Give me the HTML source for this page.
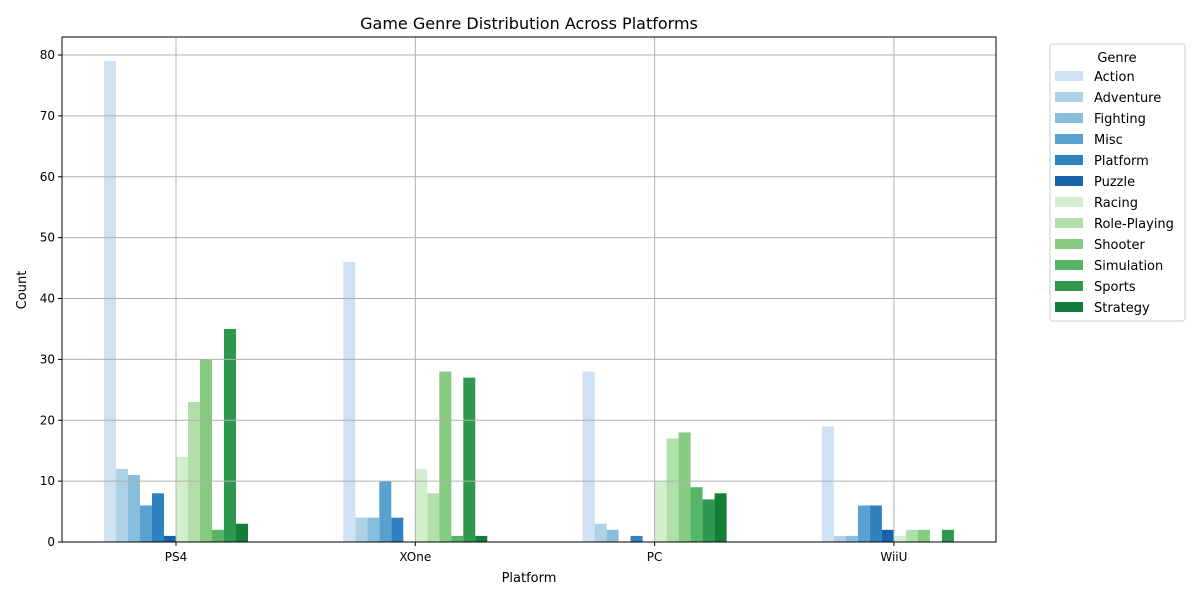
<!DOCTYPE html>
<html><head><meta charset="utf-8"><style>
body{margin:0;background:#fff;font-family:"Liberation Sans",sans-serif}
svg text{font-family:"DejaVu Sans","Liberation Sans",sans-serif}
</style></head><body>
<svg id="c" width="1200" height="600" xmlns="http://www.w3.org/2000/svg"></svg>
<script>
const platforms=["PS4","XOne","PC","WiiU"];
const genres=["Action","Adventure","Fighting","Misc","Platform","Puzzle","Racing","Role-Playing","Shooter","Simulation","Sports","Strategy"];
const ps4=[79,12,11,6,8,1,14,23,30,2,35,3];
const xone=[46,4,4,10,4,0,12,8,28,1,27,1];
const pc=[28,3,2,0,1,0,10,17,18,9,7,8];
const wiiu=[19,1,1,6,6,2,1,2,2,0,2,0];
const yTicks=[0,10,20,30,40,50,60,70,80];
const series=[ps4,xone,pc,wiiu];
const colors=["#cfe1f2","#afd1e7","#88bedc","#5aa1cf","#3082be","#1764ab","#d3eecd","#b0dfaa","#87cb80","#56b567","#2e984e","#137d39"];
const svg=document.getElementById('c');const NS="http://www.w3.org/2000/svg";
function mk(t,a,p){const e=document.createElementNS(NS,t);for(const k in a)e.setAttribute(k,a[k]);(p||svg).appendChild(e);return e;}
const L=62,R=996,T=37,B=542;
const y=v=>B-v*(487/80);
const gx=i=>176+i*239.3;
const bw=12;
// bars
series.forEach((s,i)=>{
 s.forEach((v,j)=>{
  const x=gx(i)-6*bw+j*bw;
  const r=mk('rect',{x:x,y:y(v),width:bw,height:B-y(v),fill:colors[j]});
  
  
 });
});
// grid
yTicks.forEach(t=>{
 mk('line',{x1:L,x2:R,y1:y(t),y2:y(t),stroke:'#b0b0b0','stroke-width':1});
 mk('line',{x1:L-4,x2:L,y1:y(t),y2:y(t),stroke:'#000'});
 const tx=mk('text',{x:L-7,y:y(t)+4,'text-anchor':'end','font-size':12});tx.textContent=t;
 
 
});
platforms.forEach((p,i)=>{
 mk('line',{x1:gx(i),x2:gx(i),y1:T,y2:B,stroke:'#b0b0b0','stroke-width':1});
});
platforms.forEach((p,i)=>{
 mk('line',{x1:gx(i),x2:gx(i),y1:B,y2:B+4,stroke:'#000'});
 const t=mk('text',{x:gx(i),y:B+19,'text-anchor':'middle','font-size':12});t.textContent=p;
 
 
});
mk('rect',{x:L,y:T,width:R-L,height:B-T,fill:'none',stroke:'#000','stroke-width':1});
let t=mk('text',{x:(L+R)/2,y:29,'text-anchor':'middle','font-size':16});t.textContent="Game Genre Distribution Across Platforms";

t=mk('text',{x:(L+R)/2,y:582,'text-anchor':'middle','font-size':13});t.textContent="Platform";

t=mk('text',{x:26,y:290,'text-anchor':'middle','font-size':13,transform:'rotate(-90 26 290)'});t.textContent="Count";

// legend
const lg=mk('g',{});

mk('rect',{x:1050,y:44,width:135,height:277,rx:3,fill:'#fff',stroke:'#ccc'},lg);
t=mk('text',{x:1117,y:62,'text-anchor':'middle','font-size':13},lg);t.textContent="Genre";
genres.forEach((g,j)=>{
 const e=mk('g',{},lg);
 
 mk('rect',{x:1055,y:71+j*21,width:28,height:10,fill:colors[j]},e);
 const tt=mk('text',{x:1094,y:81+j*21,'font-size':13},e);tt.textContent=g;
});
</script>
</body></html>
